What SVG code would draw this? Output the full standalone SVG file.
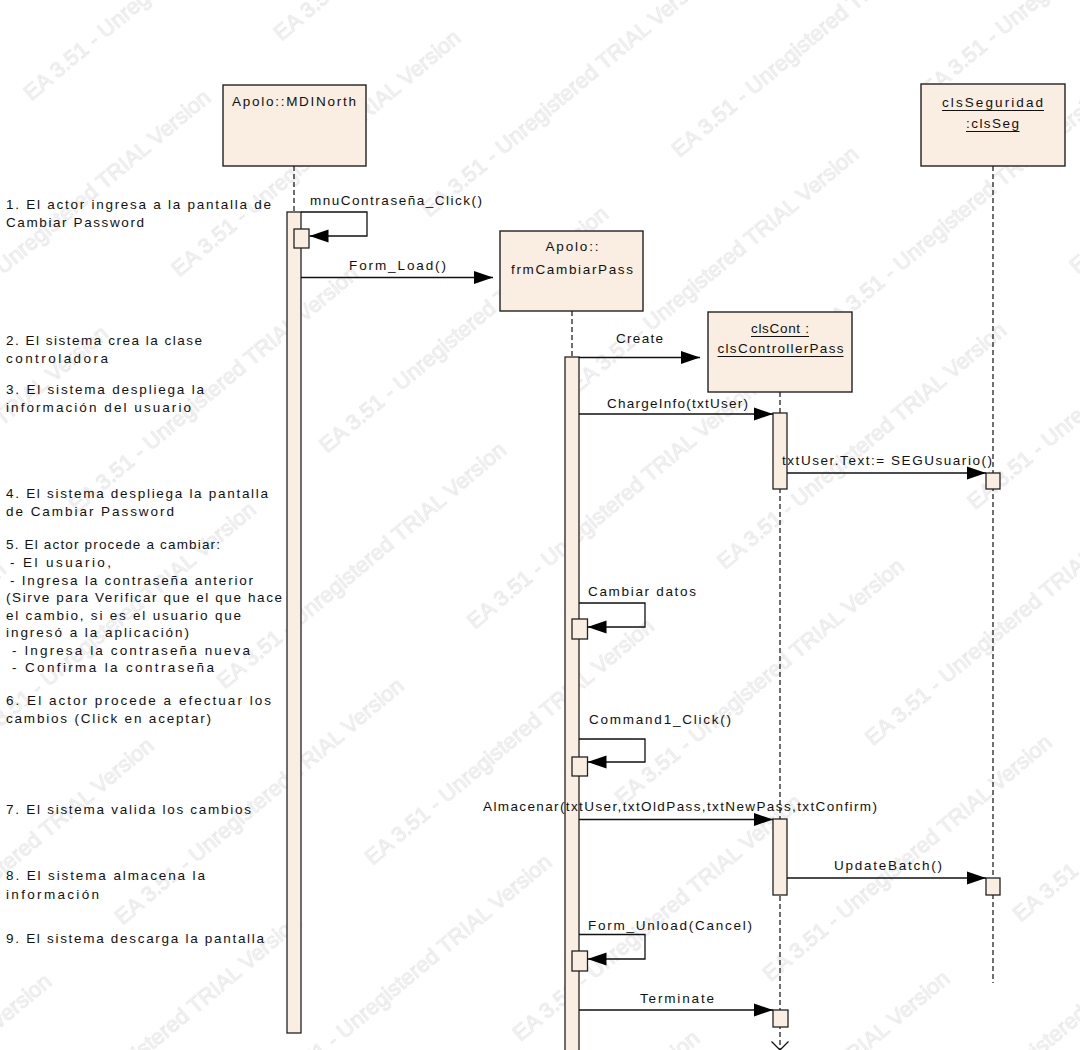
<svg xmlns="http://www.w3.org/2000/svg" width="1080" height="1050" viewBox="0 0 1080 1050">
  <defs>
    <!-- tiled trial-version stamp behind the diagram -->
    <pattern id="stamp" patternUnits="userSpaceOnUse" width="460" height="230" patternTransform="translate(-20 40) rotate(-40)">
      <text x="0" y="80" class="wm">EA 3.51 - Unregistered TRIAL Version</text>
      <text x="-230" y="195" class="wm">EA 3.51 - Unregistered TRIAL Version</text>
      <text x="230" y="195" class="wm">EA 3.51 - Unregistered TRIAL Version</text>
    </pattern>
    <marker id="arr" markerUnits="userSpaceOnUse" markerWidth="20" markerHeight="14" refX="19" refY="7" orient="auto">
      <path d="M0,0.5 L19,7 L0,13.5 z" fill="#000"/>
    </marker>
    <style>
      .wm { font-family: "Liberation Sans", Arial, sans-serif; font-size: 22px; fill: #f6f6f6; stroke: #e0e0e0; stroke-width: 0.6; }
      .box { fill: #f9eee1; stroke: #222; stroke-width: 1.4; }
      .act { fill: #f9eee1; stroke: #222; stroke-width: 1.3; }
      .life { stroke: #222; stroke-width: 1.3; stroke-dasharray: 5 3; fill: none; }
      .msg { stroke: #111; stroke-width: 1.3; fill: none; marker-end: url(#arr); }
      .ul { stroke: #111; stroke-width: 1.2; }
      text.t { font-family: "Liberation Sans", Arial, sans-serif; font-size: 13.5px; fill: #111; }
    </style>
  </defs>

  <rect x="0" y="0" width="1080" height="1050" fill="#ffffff"/>
  <rect x="0" y="0" width="1080" height="1050" fill="url(#stamp)"/>

  <!-- step notes down the left margin -->
  <g id="notes">
    <text class="t" x="6" y="208.5" textLength="265" lengthAdjust="spacing">1. El actor ingresa a la pantalla de</text>
    <text class="t" x="6" y="227" textLength="138" lengthAdjust="spacing">Cambiar Password</text>
    <text class="t" x="6" y="344.5" textLength="196" lengthAdjust="spacing">2. El sistema crea la clase</text>
    <text class="t" x="6" y="363" textLength="102" lengthAdjust="spacing">controladora</text>
    <text class="t" x="6" y="393.5" textLength="198" lengthAdjust="spacing">3. El sistema despliega la</text>
    <text class="t" x="6" y="412" textLength="185" lengthAdjust="spacing">información del usuario</text>
    <text class="t" x="6" y="497.5" textLength="262" lengthAdjust="spacing">4. El sistema despliega la pantalla</text>
    <text class="t" x="6" y="516" textLength="168" lengthAdjust="spacing">de Cambiar Password</text>
    <text class="t" x="6" y="549" textLength="214" lengthAdjust="spacing">5. El actor procede a cambiar:</text>
    <text class="t" x="10" y="567" textLength="101" lengthAdjust="spacing">- El usuario,</text>
    <text class="t" x="10" y="584.5" textLength="243" lengthAdjust="spacing">- Ingresa la contraseña anterior</text>
    <text class="t" x="6" y="602" textLength="276" lengthAdjust="spacing">(Sirve para Verificar que el que hace</text>
    <text class="t" x="6" y="619.5" textLength="235" lengthAdjust="spacing">el cambio, si es el usuario que</text>
    <text class="t" x="6" y="637" textLength="183" lengthAdjust="spacing">ingresó a la aplicación)</text>
    <text class="t" x="12" y="654.5" textLength="238" lengthAdjust="spacing">- Ingresa la contraseña nueva</text>
    <text class="t" x="12" y="672" textLength="202" lengthAdjust="spacing">- Confirma la contraseña</text>
    <text class="t" x="6" y="704.5" textLength="265" lengthAdjust="spacing">6. El actor procede a efectuar los</text>
    <text class="t" x="6" y="722.5" textLength="205" lengthAdjust="spacing">cambios (Click en aceptar)</text>
    <text class="t" x="6" y="814" textLength="245" lengthAdjust="spacing">7. El sistema valida los cambios</text>
    <text class="t" x="6" y="880" textLength="199" lengthAdjust="spacing">8. El sistema almacena la</text>
    <text class="t" x="6" y="898.5" textLength="93" lengthAdjust="spacing">información</text>
    <text class="t" x="6" y="943" textLength="258" lengthAdjust="spacing">9. El sistema descarga la pantalla</text>
  </g>

  <!-- lifelines -->
  <g id="lifelines">
    <line class="life" x1="294" y1="166" x2="294" y2="212"/>
    <line class="life" x1="572" y1="311" x2="572" y2="357"/>
    <line class="life" x1="780" y1="392" x2="780" y2="1050"/>
    <line class="life" x1="993" y1="166" x2="993" y2="983"/>
  </g>

  <g id="MDINorth">
    <rect class="box" x="223" y="85" width="143" height="81"/>
    <text class="t" x="232" y="106" textLength="124" lengthAdjust="spacing">Apolo::MDINorth</text>
    <rect class="act" x="287" y="212" width="14" height="821"/>
    <rect class="act" x="294" y="229" width="15" height="19"/>
  </g>

  <g id="frmCambiarPass">
    <rect class="box" x="500" y="231" width="143" height="80"/>
    <text class="t" x="545.5" y="251" textLength="53" lengthAdjust="spacing">Apolo::</text>
    <text class="t" x="511" y="273.5" textLength="122" lengthAdjust="spacing">frmCambiarPass</text>
    <rect class="act" x="565" y="357" width="14" height="700"/>
    <rect class="act" x="572" y="619" width="15.5" height="20"/>
    <rect class="act" x="572" y="757" width="15.5" height="19"/>
    <rect class="act" x="572" y="951" width="15.5" height="20"/>
  </g>

  <g id="clsCont">
    <rect class="box" x="708" y="312" width="144" height="80"/>
    <text class="t" x="751" y="333" textLength="58" lengthAdjust="spacing">clsCont :</text>
    <line class="ul" x1="751" y1="336.5" x2="809" y2="336.5"/>
    <text class="t" x="717.5" y="352.5" textLength="126" lengthAdjust="spacing">clsControllerPass</text>
    <line class="ul" x1="717.5" y1="356.5" x2="843.5" y2="356.5"/>
    <rect class="act" x="773" y="413" width="14" height="76"/>
    <rect class="act" x="773" y="819" width="14" height="76"/>
    <rect class="act" x="773" y="1010" width="15" height="17"/>
    <path d="M771.5,1041.5 L788.5,1058.5 M788.5,1041.5 L771.5,1058.5" stroke="#111" stroke-width="1.3"/>
  </g>

  <g id="clsSeguridad">
    <rect class="box" x="921" y="84" width="144" height="82"/>
    <text class="t" x="942" y="106.5" textLength="101" lengthAdjust="spacing">clsSeguridad</text>
    <line class="ul" x1="942" y1="110.5" x2="1044" y2="110.5"/>
    <text class="t" x="966" y="128" textLength="53" lengthAdjust="spacing">:clsSeg</text>
    <line class="ul" x1="966" y1="131.5" x2="1019.5" y2="131.5"/>
    <rect class="act" x="986" y="473" width="14" height="16"/>
    <rect class="act" x="986" y="878" width="14" height="17"/>
  </g>

  <!-- messages -->
  <g id="connectors">
    <path class="msg" d="M301,212 H367 V236 H309.5"/>
    <text class="t" x="310" y="205" textLength="172" lengthAdjust="spacing">mnuContraseña_Click()</text>

    <path class="msg" d="M301,277.5 H493"/>
    <text class="t" x="349" y="270" textLength="97" lengthAdjust="spacing">Form_Load()</text>

    <path class="msg" d="M579,357.5 H700"/>
    <text class="t" x="616" y="343" textLength="47" lengthAdjust="spacing">Create</text>

    <path class="msg" d="M579,414 H773"/>
    <text class="t" x="607" y="408" textLength="141" lengthAdjust="spacing">ChargeInfo(txtUser)</text>

    <path class="msg" d="M787,473 H986"/>
    <text class="t" x="782" y="465" textLength="210" lengthAdjust="spacing">txtUser.Text:= SEGUsuario()</text>

    <path class="msg" d="M579,603 H645 V627 H587.5"/>
    <text class="t" x="588" y="596" textLength="108" lengthAdjust="spacing">Cambiar datos</text>

    <path class="msg" d="M579,739 H645 V762 H587.5"/>
    <text class="t" x="589" y="724" textLength="142" lengthAdjust="spacing">Command1_Click()</text>

    <path class="msg" d="M579,819.5 H773"/>
    <text class="t" x="483" y="810.5" textLength="394" lengthAdjust="spacing">Almacenar(txtUser,txtOldPass,txtNewPass,txtConfirm)</text>

    <path class="msg" d="M787,878 H986"/>
    <text class="t" x="834" y="869.5" textLength="108" lengthAdjust="spacing">UpdateBatch()</text>

    <path class="msg" d="M579,934.5 H645 V959 H587.5"/>
    <text class="t" x="588" y="930" textLength="164" lengthAdjust="spacing">Form_Unload(Cancel)</text>

    <path class="msg" d="M579,1010 H773"/>
    <text class="t" x="640" y="1002.5" textLength="74" lengthAdjust="spacing">Terminate</text>
  </g>
</svg>
